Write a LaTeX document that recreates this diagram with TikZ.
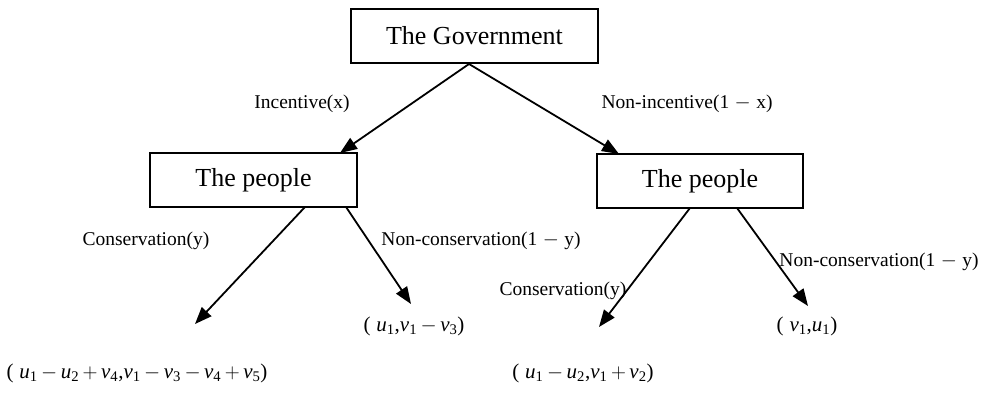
\documentclass[tikz,border=0pt]{standalone}
\usepackage{fontspec}
\usepackage{amsmath}
\setmainfont{Liberation Serif}
\usetikzlibrary{arrows.meta}
\newcommand\vx[2]{\textit{#1}$_{\text{#2}}$}
\newcommand\mn{\,$-$\,}
\newcommand\pl{\,$+$\,}
\newcommand\lmn{\;$-$\;}
\begin{document}
\begin{tikzpicture}[x=1pt,y=-1pt,
  box/.style={draw,line width=1.4pt,minimum width=#1,minimum height=54pt,font=\fontsize{26}{30}\selectfont,inner sep=0pt},
  arr/.style={line width=1.8pt,-{Triangle[length=17pt,width=13pt]}},
  lab/.style={font=\fontsize{19.5}{22}\selectfont,inner sep=0pt},
  pay/.style={font=\fontsize{21}{24}\selectfont,inner sep=0pt}]
\useasboundingbox (0,0) rectangle (984,393);
\node[box=247pt] (gov) at (474.5,36) {The Government};
\node[box=207pt] (pl) at (253.5,180) {The people};
\node[box=206pt] (pr) at (700,181) {The people};
\coordinate (g1) at (469,64);
\coordinate (l0) at (340,153);
\coordinate (r0) at (619,154);
\coordinate (ls) at (305,207);
\coordinate (ln) at (346,207);
\coordinate (rs) at (690,208);
\coordinate (rn) at (737,208);
\node[pay] (p1) at (137,373) {(\;\vx{u}{1}\mn\vx{u}{2}\pl\vx{v}{4},\vx{v}{1}\mn\vx{v}{3}\mn\vx{v}{4}\pl\vx{v}{5})};
\node[pay] (p2) at (414,326) {(\;\vx{u}{1},\vx{v}{1}\mn\vx{v}{3})};
\node[pay] (p3) at (583,373) {(\;\vx{u}{1}\mn\vx{u}{2},\vx{v}{1}\pl\vx{v}{2})};
\node[pay] (p4) at (807,326) {(\;\vx{v}{1},\vx{u}{1})};
\coordinate (t1) at (195,324);
\coordinate (t2) at (411,304);
\coordinate (t3) at (599,327);
\coordinate (t4) at (808,306);
\draw[arr] (g1) -- (l0);
\draw[arr] (g1) -- (r0);
\draw[arr] (ls) -- (t1);
\draw[arr] (ln) -- (t2);
\draw[arr] (rs) -- (t3);
\draw[arr] (rn) -- (t4);
\node[lab] (a1) at (302,104) {Incentive(x)};
\node[lab] (a2) at (687,104) {Non-incentive(1\lmn x)};
\node[lab] (a3) at (146,241) {Conservation(y)};
\node[lab] (a4) at (481,241) {Non-conservation(1\lmn y)};
\node[lab] (a5) at (563,291) {Conservation(y)};
\node[lab] (a6) at (879,262) {Non-conservation(1\lmn y)};
\end{tikzpicture}
\end{document}
